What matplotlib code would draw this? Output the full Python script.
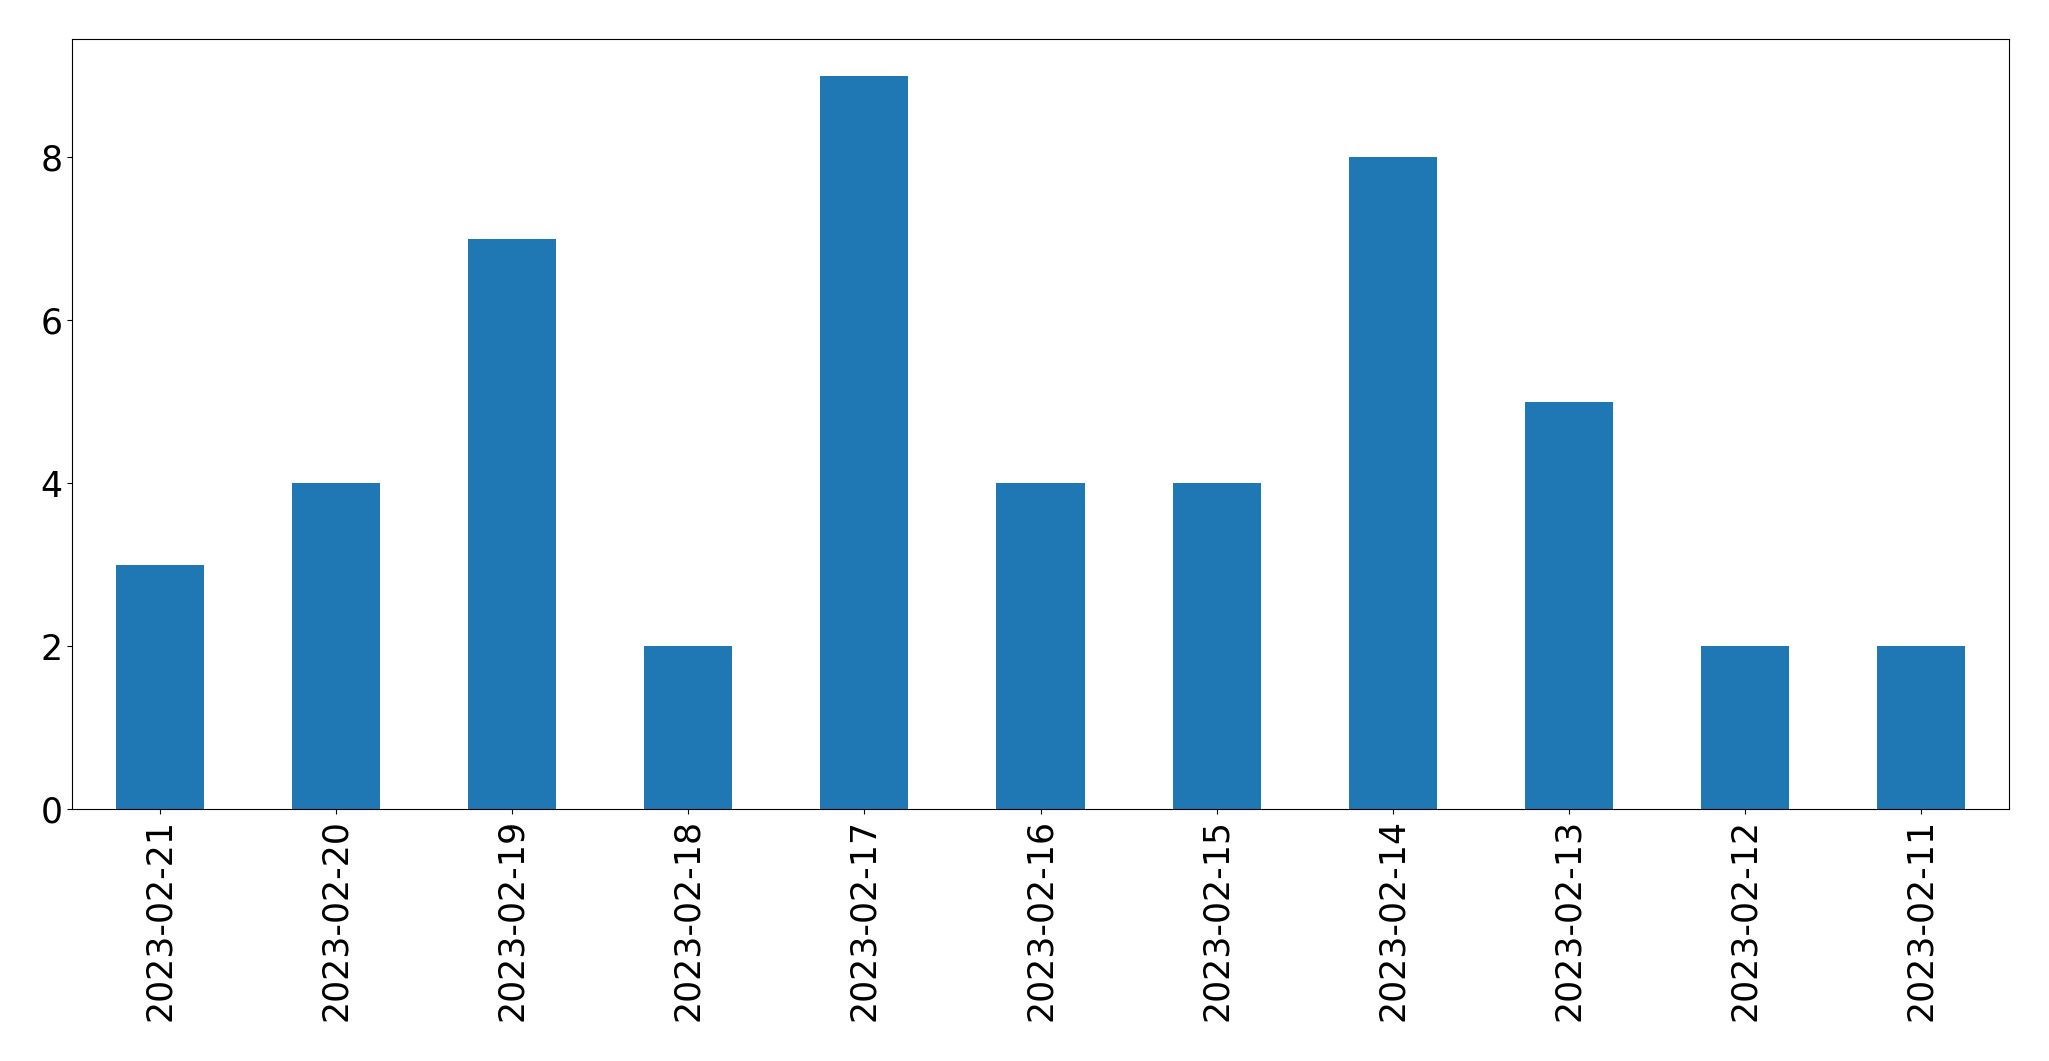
import matplotlib
matplotlib.use("Agg")
import matplotlib.pyplot as plt

dates = ["2023-02-21", "2023-02-20", "2023-02-19", "2023-02-18", "2023-02-17", "2023-02-16",
         "2023-02-15", "2023-02-14", "2023-02-13", "2023-02-12", "2023-02-11"]
counts = [3, 4, 7, 2, 9, 4, 4, 8, 5, 2, 2]

fig = plt.figure(figsize=(20.49, 10.61), dpi=100)
ax = fig.add_axes([72/2049, 1 - 809/1061, (2009-72)/2049, (809-39)/1061])
x = range(len(dates))
ax.bar(x, counts, width=0.5, color="#1f77b4")
ax.set_xlim(-0.5, len(dates) - 0.5)
ax.set_ylim(0, 9.45)
ax.set_xticks(list(x))
ax.set_xticklabels(dates, rotation=90, fontsize=25)
ax.set_yticks([0, 2, 4, 6, 8])
ax.tick_params(axis="y", labelsize=25)
fig.savefig("out.png", dpi=100)
